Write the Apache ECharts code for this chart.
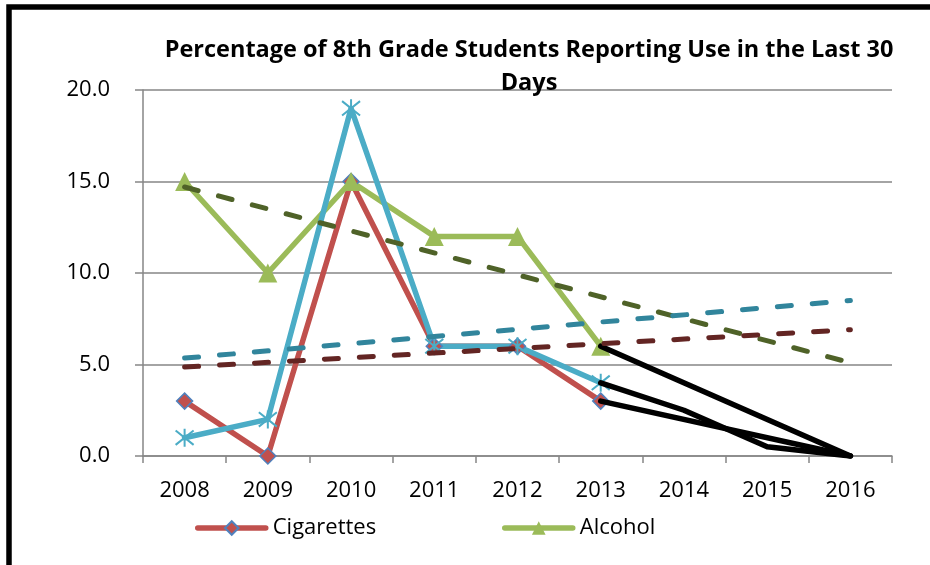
<!DOCTYPE html>
<html>
<head>
<meta charset="utf-8">
<script src="https://cdn.jsdelivr.net/npm/echarts@6/dist/echarts.min.js"></script>
<style>
html,body{margin:0;padding:0;background:#fff;}
#c{width:930px;height:565px;}
</style>
</head>
<body>
<div id="c"></div>
<script>
const years = ['2008','2009','2010','2011','2012','2013','2014','2015','2016'];
const yTicks = [0, 5, 10, 15, 20];
const cigarettes = [3, 0, 15, 6, 6, 3, null, null, null];
const alcohol = [15, 10, 15, 12, 12, 6, null, null, null];
const third = [1, 2, 19, 6, 6, 4, null, null, null];
const black1 = [null, null, null, null, null, 6, null, null, 0];
const black2 = [null, null, null, null, null, 4, 2.5, 0.5, 0];
const black3 = [null, null, null, null, null, 3, null, null, 0];
const trendAlcohol = [14.7, null, null, null, null, null, null, null, 5.1];
const trendCig = [4.86, null, null, null, null, null, null, null, 6.9];
const trendThird = [5.35, null, null, null, null, null, null, null, 8.5];

const FONT = '"Open Sans", sans-serif';
const chart = echarts.init(document.getElementById('c'));
const grid = '#868686';
function blackLine(d){
  return {type:'line', data:d, connectNulls:true, symbol:'none', silent:true,
    lineStyle:{color:'#000', width:5.5, cap:'round', join:'round'}, z:3};
}
function trend(d, c){
  return {type:'line', data:d, connectNulls:true, symbol:'none', silent:true,
    lineStyle:{color:c, width:5, type:[14,21], cap:'round'}, z:4};
}
const legendCommon = {top:512, itemWidth:68, itemHeight:17, itemGap:0,
  lineStyle:{width:5.5, cap:'round'},
  textStyle:{fontFamily:FONT, fontSize:22, color:'#000', padding:[0,0,0,2]}};
chart.setOption({
  animation:false,
  title:{
    text:'Percentage of 8th Grade Students Reporting Use in the Last 30\nDays',
    left:524, top:29, textAlign:'center',
    textStyle:{fontFamily:FONT, fontWeight:'bold', fontSize:23.5, lineHeight:33, color:'#000'}
  },
  graphic:[{type:'rect', shape:{x:9, y:7, width:1200, height:1200},
    style:{fill:'none', stroke:'#000', lineWidth:5.5}, silent:true, z:10}],
  legend:[
    Object.assign({left:190, data:['Cigarettes']}, legendCommon),
    Object.assign({left:497, data:['Alcohol']}, legendCommon)
  ],
  grid:{left:143, right:38, top:90, bottom:109},
  xAxis:{type:'category', data:years, boundaryGap:true,
    axisLine:{lineStyle:{color:grid, width:1.5}},
    axisTick:{show:true, length:7, lineStyle:{color:grid, width:1.5}},
    axisLabel:{fontFamily:FONT, fontSize:22, color:'#000', margin:24}
  },
  yAxis:{type:'value', min:yTicks[0], max:yTicks[yTicks.length-1], interval:5,
    axisLine:{show:true, lineStyle:{color:grid, width:1.5}},
    axisTick:{show:true, length:8, lineStyle:{color:grid, width:1.5}},
    splitLine:{lineStyle:{color:grid, width:1.5}},
    axisLabel:{fontFamily:FONT, fontSize:22, color:'#000', margin:33,
      formatter:v=>v.toFixed(1)}
  },
  series:[
    {name:'Cigarettes', type:'line', data:cigarettes, symbol:'diamond', symbolSize:16,
      lineStyle:{color:'#C0504D', width:5.5, cap:'round', join:'round'},
      itemStyle:{color:'#C0504D', borderColor:'#4F81BD', borderWidth:1.5}, z:2},
    {name:'Alcohol', type:'line', data:alcohol, symbol:'triangle', symbolSize:19,
      lineStyle:{color:'#9BBB59', width:5.5, cap:'round', join:'round'},
      itemStyle:{color:'#9BBB59'}, z:2},
    {name:'Marijuana', type:'line', data:third,
      symbol:'path://M2,2 L18,18 M18,2 L2,18 M10,0 L10,20', symbolSize:18,
      lineStyle:{color:'#4BACC6', width:5.5, cap:'round', join:'round'},
      itemStyle:{color:'rgba(0,0,0,0)', borderColor:'#4BACC6', borderWidth:2}, z:2},
    blackLine(black1), blackLine(black2), blackLine(black3),
    trend(trendAlcohol, '#4F6228'), trend(trendCig, '#632523'), trend(trendThird, '#31859C')
  ]
});
</script>
</body>
</html>
